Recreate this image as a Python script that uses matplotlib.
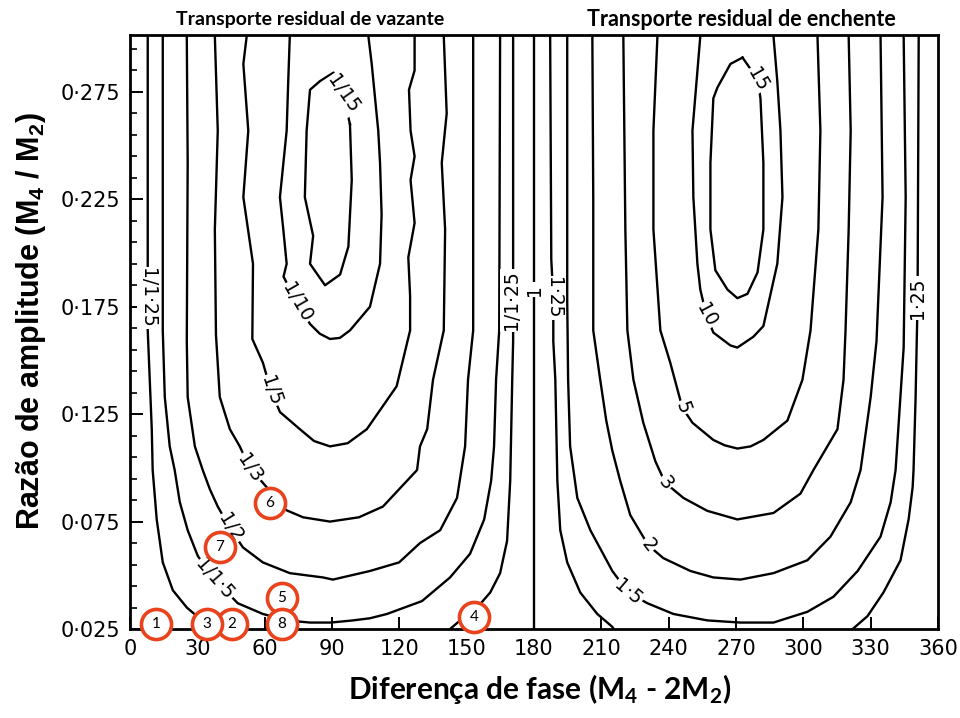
import numpy as np
import matplotlib
matplotlib.use("Agg")
import matplotlib.pyplot as plt
from matplotlib.ticker import FixedLocator

nan = np.nan

# --- contour lines: phase (deg) vs amplitude ratio M4/M2 ---
# ebb-dominant lobe (transport ratio < 1)
ebb_125_phase = [7.9, 7.9, 7.9, 7.9, 9.7, 10.1, 11.9, 14.6, 19.1, 25.3, 29.8, 34.7, 35.6, nan,
                 142.6, 147.1, 154.7, 160.5, 164.9, 168.0, 169.4, 170.3, 170.7, 170.7, 170.7]
ebb_125_amp = [0.301, 0.248, 0.197, 0.164, 0.118, 0.099, 0.076, 0.056, 0.043, 0.035, 0.031, 0.026, 0.025, nan,
               0.025, 0.029, 0.035, 0.042, 0.051, 0.066, 0.094, 0.141, 0.159, 0.197, 0.301]

ebb_15_phase = [14.6, 14.6, 14.6, 15.5, 17.7, 19.9, 22.2, 25.7, 30.2, 37.8, 48.0, 59.2, 69.9, 80.2,
                89.5, 99.3, 106.9, 114.5, 130.1, 142.6, 151.5, 157.8, 160.9, 162.2, 163.1, 164.5, 164.9]
ebb_15_amp = [0.301, 0.225, 0.164, 0.133, 0.110, 0.099, 0.084, 0.071, 0.059, 0.048, 0.037, 0.032, 0.029, 0.028,
              0.028, 0.029, 0.030, 0.032, 0.038, 0.049, 0.060, 0.076, 0.094, 0.110, 0.141, 0.164, 0.301]

ebb_2_phase = [25.3, 25.7, 25.3, 25.7, 28.9, 32.4, 35.6, 39.1, 44.5, 50.3, 59.2, 71.2, 86.0, 90.4,
               106.9, 119.9, 129.2, 138.2, 145.7, 149.3, 150.6, 152.9, 152.9]
ebb_2_amp = [0.301, 0.242, 0.159, 0.133, 0.110, 0.099, 0.090, 0.082, 0.072, 0.063, 0.056, 0.051, 0.049, 0.048,
             0.052, 0.056, 0.065, 0.071, 0.086, 0.110, 0.141, 0.164, 0.301]

ebb_3_phase = [37.8, 39.1, 37.8, 38.3, 40.0, 44.5, 48.9, 53.4, 60.9, 68.1, 77.1, 89.1, 102.0, 112.7,
               127.9, 129.2, 132.4, 135.0, 139.8, 140.4, 138.9, 141.1, 139.8]
ebb_3_amp = [0.301, 0.257, 0.211, 0.162, 0.133, 0.118, 0.110, 0.100, 0.091, 0.081, 0.077, 0.075, 0.077, 0.082,
             0.099, 0.110, 0.118, 0.141, 0.164, 0.211, 0.242, 0.265, 0.301]

ebb_5_phase = [52.0, 50.5, 52.7, 50.5, 54.8, 54.5, 59.2, 62.8, 66.8, 75.7, 82.0, 89.1, 97.0, 105.5, 118.8,
               124.8, 124.8, 124.0, 126.8, 125.0, 126.8, 125.0, 124.3, 126.8, 126.8]
ebb_5_amp = [0.301, 0.288, 0.257, 0.226, 0.195, 0.160, 0.149, 0.136, 0.126, 0.118, 0.1125, 0.110, 0.1115, 0.118,
             0.138, 0.164, 0.180, 0.198, 0.214, 0.234, 0.245, 0.257, 0.276, 0.285, 0.301]

ebb_10_phase = [71.2, 70.5, 69.8, 66.8, 68.3, 69.8, 68.4, 74.4, 80.2, 84.5, 89.1, 93.5, 98.0, 106.9, 111.4,
                112.1, 111.4, 110.6, 109.1, 107.7, 106.2]
ebb_10_amp = [0.301, 0.280, 0.257, 0.226, 0.211, 0.195, 0.189, 0.177, 0.167, 0.1625, 0.160, 0.1605, 0.164,
              0.175, 0.195, 0.218, 0.242, 0.257, 0.273, 0.288, 0.301]

ebb_15b_phase = [98.0, 98.8, 97.3, 93.6, 86.9, 80.2, 81.6, 77.9, 78.7, 80.2, 84.6, 90.7, 94.9, 98.0]
ebb_15b_amp = [0.260, 0.234, 0.203, 0.190, 0.185, 0.195, 0.208, 0.226, 0.257, 0.276, 0.280, 0.284, 0.274, 0.260]

# flood-dominant lobe (transport ratio > 1)
fl_125_phase = [187.2, 187.7, 188.6, 188.6, 189.5, 190.4, 191.7, 194.8, 200.6, 208.2, 214.9, 215.5, nan,
                322.0, 328.6, 335.7, 343.3, 346.9, 348.7, 349.1, 350.0, 350.9, 351.4]
fl_125_amp = [0.301, 0.197, 0.179, 0.159, 0.141, 0.094, 0.071, 0.056, 0.042, 0.032, 0.026, 0.025, nan,
              0.025, 0.031, 0.042, 0.057, 0.076, 0.091, 0.099, 0.132, 0.178, 0.301]

fl_15_phase = [194.8, 194.8, 195.2, 196.1, 199.3, 205.1, 214.9, 222.0, 230.5, 242.1, 257.2, 271.9,
               286.7, 301.8, 313.4, 324.2, 334.4, 338.9, 341.1, 344.7, 345.6, 344.7]
fl_15_amp = [0.301, 0.178, 0.141, 0.110, 0.086, 0.071, 0.052, 0.042, 0.037, 0.032, 0.029, 0.028,
             0.028, 0.033, 0.040, 0.052, 0.068, 0.084, 0.099, 0.156, 0.226, 0.301]

fl_2_phase = [206.0, 206.4, 206.4, 209.5, 212.2, 214.9, 218.4, 222.9, 230.9, 237.6, 249.7, 259.9,
              272.0, 286.7, 301.8, 312.1, 321.1, 325.5, 330.0, 332.6, 335.3, 334.4]
fl_2_amp = [0.301, 0.225, 0.164, 0.141, 0.122, 0.108, 0.094, 0.078, 0.064, 0.058, 0.052, 0.049,
            0.048, 0.051, 0.057, 0.068, 0.084, 0.099, 0.133, 0.159, 0.226, 0.301]

fl_3_phase = [219.8, 220.7, 221.6, 224.3, 228.7, 234.1, 238.5, 246.6, 257.2, 270.6, 286.7, 298.7,
              304.5, 315.2, 317.9, 318.8, 320.2, 321.1, 320.2]
fl_3_amp = [0.301, 0.211, 0.164, 0.141, 0.121, 0.103, 0.093, 0.086, 0.080, 0.076, 0.079, 0.088,
            0.099, 0.118, 0.141, 0.164, 0.211, 0.257, 0.301]

fl_5_phase = [235.0, 233.2, 233.2, 236.3, 240.7, 246.1, 250.6, 259.9, 265.0, 270.6, 276.5, 282.2, 292.9,
              299.6, 303.2, 306.7, 307.6, 306.3]
fl_5_amp = [0.301, 0.257, 0.211, 0.164, 0.149, 0.128, 0.121, 0.113, 0.1105, 0.109, 0.110, 0.113, 0.122,
            0.141, 0.164, 0.211, 0.257, 0.301]

fl_10_phase = [254.1, 250.6, 251.0, 252.8, 254.1, 256.8, 259.9, 267.5, 270.6, 277.7, 282.2, 288.4,
               290.7, 289.8, 288.4, 286.7]
fl_10_amp = [0.301, 0.257, 0.226, 0.195, 0.183, 0.171, 0.163, 0.157, 0.156, 0.161, 0.166, 0.195,
             0.226, 0.257, 0.280, 0.301]

fl_15b_phase = [272.9, 267.5, 261.7, 259.9, 258.6, 258.6, 260.8, 266.2, 270.6, 275.1, 279.6, 282.2,
                282.2, 280.9, 279.6, 272.9]
fl_15b_amp = [0.291, 0.288, 0.277, 0.272, 0.242, 0.211, 0.192, 0.183, 0.179, 0.181, 0.191, 0.211,
              0.242, 0.272, 0.281, 0.291]

unity_phase = [180, 180]
unity_amp = [0.025, 0.301]

# contour labels
label_text = ["1/1·25", "1/1·5", "1/2", "1/3", "1/5", "1/10", "1/15", "1/1·25", "1",
              "1·25", "1·5", "2", "3", "5", "10", "15", "1·25"]
label_phase = [7.9, 37.8, 44.5, 53.4, 62.8, 74.4, 94.9, 169.8, 180.0,
               188.6, 222.0, 230.9, 238.5, 246.1, 256.8, 279.6, 350.9]
label_amp = [0.179, 0.048, 0.072, 0.100, 0.136, 0.177, 0.274, 0.178, 0.183,
             0.179, 0.042, 0.064, 0.093, 0.128, 0.171, 0.281, 0.179]
label_rot = [-90, -49, -58, -56, -71, -60, -55, 90, 90,
             -90, -40, -52, -51, -70, -62, -60, 90]

# numbered stations
station_id = ["1", "2", "3", "4", "5", "6", "7", "8"]
station_phase = [11.8, 45.5, 34.1, 153.3, 67.5, 62.3, 40.0, 67.5]
station_amp = [0.0273, 0.0273, 0.0273, 0.0304, 0.0396, 0.0835, 0.0630, 0.0273]

y_major = [0.025, 0.075, 0.125, 0.175, 0.225, 0.275]
y_labels = ["0·025", "0·075", "0·125", "0·175", "0·225", "0·275"]
x_major = list(range(0, 361, 30))

plt.rcParams['mathtext.default'] = 'regular'

fig = plt.figure(figsize=(9.6, 7.18), dpi=100)
ax = fig.add_axes([130 / 960, 1 - 629 / 718, 808 / 960, 594 / 718])

lines = [
    (ebb_125_phase, ebb_125_amp), (ebb_15_phase, ebb_15_amp), (ebb_2_phase, ebb_2_amp),
    (ebb_3_phase, ebb_3_amp), (ebb_5_phase, ebb_5_amp), (ebb_10_phase, ebb_10_amp),
    (ebb_15b_phase, ebb_15b_amp),
    (fl_125_phase, fl_125_amp), (fl_15_phase, fl_15_amp), (fl_2_phase, fl_2_amp),
    (fl_3_phase, fl_3_amp), (fl_5_phase, fl_5_amp), (fl_10_phase, fl_10_amp),
    (fl_15b_phase, fl_15b_amp), (unity_phase, unity_amp),
]
for ph, am in lines:
    ax.plot(ph, am, color='black', lw=1.7, solid_joinstyle='round', zorder=2)

for s, x, y, r in zip(label_text, label_phase, label_amp, label_rot):
    ax.text(x, y, s, rotation=r, rotation_mode='anchor', ha='center', va='center',
            fontsize=13.5, family='DejaVu Sans', zorder=3,
            bbox=dict(facecolor='white', edgecolor='none', pad=1.0))

ax.scatter(station_phase, station_amp, s=470, facecolor='white', edgecolor='#E8431C',
           linewidth=2.6, zorder=5, clip_on=False)
for s, x, y in zip(station_id, station_phase, station_amp):
    ax.text(x, y, s, ha='center', va='center', fontsize=11, family='Lato',
            zorder=6, clip_on=False)

ax.set_xlim(0, 360)
ax.set_ylim(0.025, 0.3015)
ax.xaxis.set_major_locator(FixedLocator(x_major))
ax.yaxis.set_major_locator(FixedLocator(y_major))
ax.set_yticklabels(y_labels)
y_minor = [0.025 + 0.01 * k for k in range(28) if k % 5 != 0]
ax.yaxis.set_minor_locator(FixedLocator(y_minor))
ax.tick_params(axis='both', which='major', direction='in', length=9, width=1.4,
               labelsize=15, pad=7)
ax.tick_params(axis='y', which='minor', direction='in', length=5, width=1.2)
ax.tick_params(top=False, right=False)
for lab in ax.get_xticklabels() + ax.get_yticklabels():
    lab.set_family('DejaVu Sans')
for sp in ax.spines.values():
    sp.set_linewidth(2)

ax.set_xlabel("Diferença de fase (M$_4$ - 2M$_2$)", family='Lato', weight='bold', fontsize=21.5)
ax.xaxis.set_label_coords(0.5074, -0.0724)
ax.set_ylabel("Razão de amplitude (M$_4$ / M$_2$)", family='Liberation Sans', weight='bold', fontsize=22)
ax.yaxis.set_label_coords(-0.1015, 0.5185)

fig.text(310 / 960, 1 - 20 / 718, "Transporte residual de vazante", ha='center', va='center',
         family='Lato', weight='bold', fontsize=14)
fig.text(741 / 960, 1 - 20 / 718, "Transporte residual de enchente", ha='center', va='center',
         family='Lato', weight='bold', fontsize=15.5)

fig.savefig("out.png", dpi=100)
